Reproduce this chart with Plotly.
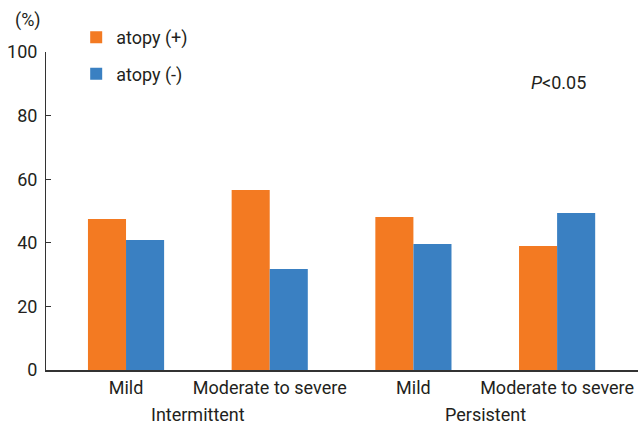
import plotly.graph_objects as go

categories = ["Mild", "Moderate to severe", "Mild ", "Moderate to severe "]
tick_labels = ["Mild", "Moderate to severe", "Mild", "Moderate to severe"]
groups = ["Intermittent", "Persistent"]
atopy_pos = [47.5, 56.6, 48.1, 39.0]
atopy_neg = [40.9, 31.8, 39.6, 49.4]
y_ticks = [0, 20, 40, 60, 80, 100]

FONT = "Roboto, sans-serif"
ORANGE = "#F37A22"
BLUE = "#3A80C2"

fig = go.Figure()
fig.add_trace(go.Bar(x=categories, y=atopy_pos, name="atopy (+)", marker_color=ORANGE,
                     marker_line_width=0, legendgroup="a"))
fig.add_trace(go.Bar(x=categories, y=atopy_neg, name="atopy (-)", marker_color=BLUE,
                     marker_line_width=0, legendgroup="b"))

fig.update_layout(
    width=638, height=425,
    margin=dict(l=46, r=0, t=52, b=55, autoexpand=False),
    plot_bgcolor="white", paper_bgcolor="white",
    barmode="group", bargap=0.47, bargroupgap=0,
    font=dict(family=FONT, size=18, color="#231f20"),
    showlegend=True,
    legend=dict(x=0.051, y=0.955, xref="paper", yref="container",
                xanchor="left", yanchor="top",
                traceorder="grouped", tracegroupgap=10,
                font=dict(size=18), bgcolor="rgba(0,0,0,0)",
                itemwidth=30),
)
fig.update_xaxes(
    range=[-0.557, 3.563], automargin=False,
    tickvals=categories, ticktext=tick_labels,
    showline=True, linecolor="#333333", linewidth=2,
    ticks="", showgrid=False, zeroline=False,
    tickfont=dict(size=18),
)
fig.update_yaxes(
    range=[0, 100], tickvals=y_ticks, automargin=False,
    showline=True, linecolor="#333333", linewidth=1,
    ticks="inside", ticklen=5, tickcolor="#333333",
    ticklabelstandoff=4,
    showgrid=False, zeroline=False,
    tickfont=dict(size=18),
)
fig.add_annotation(text="(%)", xref="paper", yref="paper", x=-0.005, y=1.10,
                   xanchor="right", yanchor="middle", showarrow=False, font=dict(size=18))
for i, g in enumerate(groups):
    fig.add_annotation(text=g, xref="x", yref="paper", x=0.5 + 2 * i, y=-0.14,
                       xanchor="center", yanchor="middle", showarrow=False, font=dict(size=18))
fig.add_annotation(text="<i>P</i><0.05", xref="paper", yref="paper", x=0.865, y=0.905,
                   xanchor="center", yanchor="middle", showarrow=False, font=dict(size=18))

fig.write_html("out.html", config={"displayModeBar": False},
               post_script="document.body.style.margin='0px';")
